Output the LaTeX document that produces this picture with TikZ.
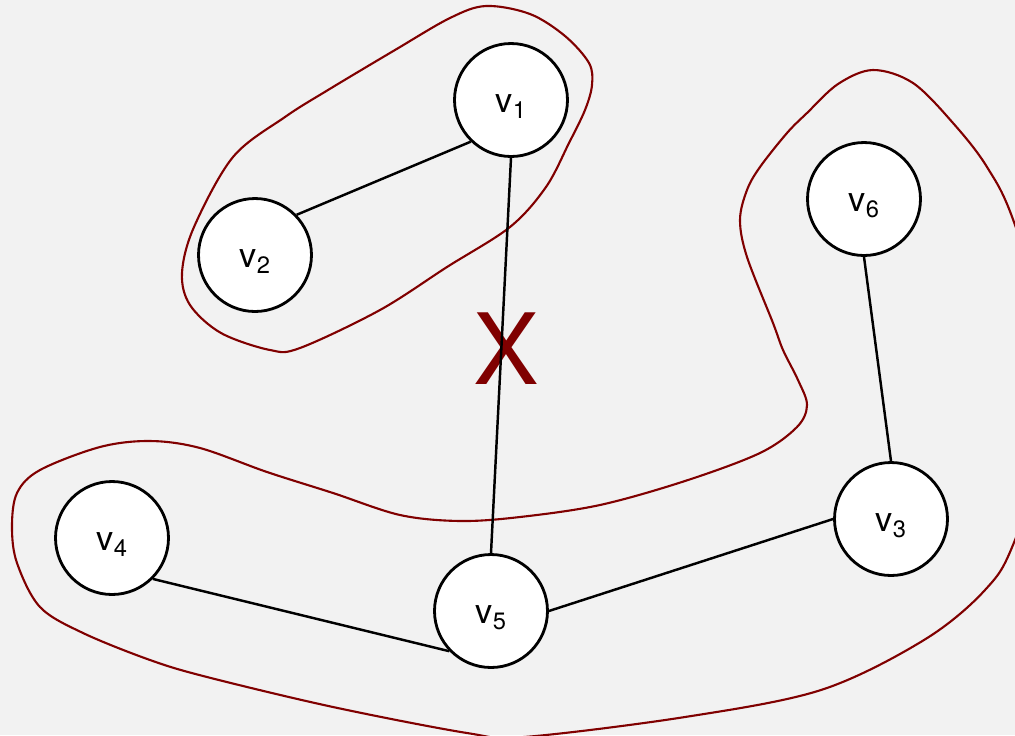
\documentclass[tikz,border=0pt]{standalone}
\usepackage{fontspec}
\setmainfont{TeX Gyre Heros}
\usepackage{tikz}
\usetikzlibrary{positioning}
\definecolor{paper}{HTML}{F2F2F2}
\definecolor{cutred}{HTML}{800000}
\newcommand{\vname}[1]{v\raisebox{-0.12cm}{\fontsize{13.5}{14}\selectfont #1}}

\begin{document}
\begin{tikzpicture}[x=0.02cm,y=-0.02cm,
    vert/.style={circle, draw, line width=1.6pt, fill=white, minimum size=2.26cm,
        inner sep=0pt, text height=0.5cm, text depth=0pt,
        font=\fontsize{19.5}{20}\selectfont},
    link/.style={line width=1.4pt},
    part/.style={draw=cutred, line width=1.2pt}]
    %% page
    \useasboundingbox (0,0) rectangle (1015,735);
    \fill[paper] (0,0) rectangle (1015,735);
    \clip (0,0) rectangle (1015,735);

    %% the two parts
    \draw[part] plot[smooth cycle, tension=0.55] coordinates {
        (486,6) (530,14) (565,36) (589,63) (592,85) (585,110) (569,143)
        (546,187) (510,227) (447,267) (380,310) (300,348) (270,350)
        (221,333) (190,305) (182,273) (194,227) (233,157) (285,117)
        (328,90) (395,50) (450,18)};
    \draw[part] plot[smooth cycle, tension=0.55] coordinates {
        (873,70) (913,83) (953,123) (987,167) (1015,225) (1065,390)
        (1015,540) (985,590) (924,640) (821,690) (685,717) (524,737)
        (467,733) (333,707) (207,677) (150,660) (83,633) (40,607)
        (17,563) (12,527) (17,493) (40,470) (100,447) (150,441) (200,448)
        (267,472) (333,493) (400,515) (460,521) (520,517) (600,505)
        (685,481) (760,453) (797,427) (807,405) (798,380) (783,350)
        (773,323) (747,257) (740,220) (747,190) (760,167) (787,133)
        (807,113) (838,84)};

    %% vertices
    \node[vert] (v1) at (511,100) {\vname{1}};
    \node[vert] (v2) at (255,255) {\vname{2}};
    \node[vert] (v6) at (864,199) {\vname{6}};
    \node[vert] (v3) at (891,519) {\vname{3}};
    \node[vert] (v4) at (112,538) {\vname{4}};
    \node[vert] (v5) at (491,611) {\vname{5}};

    %% cut edge mark
    \node[text=cutred, font=\fontsize{56}{56}\selectfont, inner sep=0pt] (cross) at (506,349) {X};

    %% edges
    \draw[link] (v2.44) -- (v1.226);
    \draw[link] (v1.south) -- (v5.north);
    \draw[link] (v6.south) -- (v3.north);
    \draw[link] (v4.-45) -- (v5.224);
    \draw[link] (v5.east) -- (v3.west);
\end{tikzpicture}
\end{document}
